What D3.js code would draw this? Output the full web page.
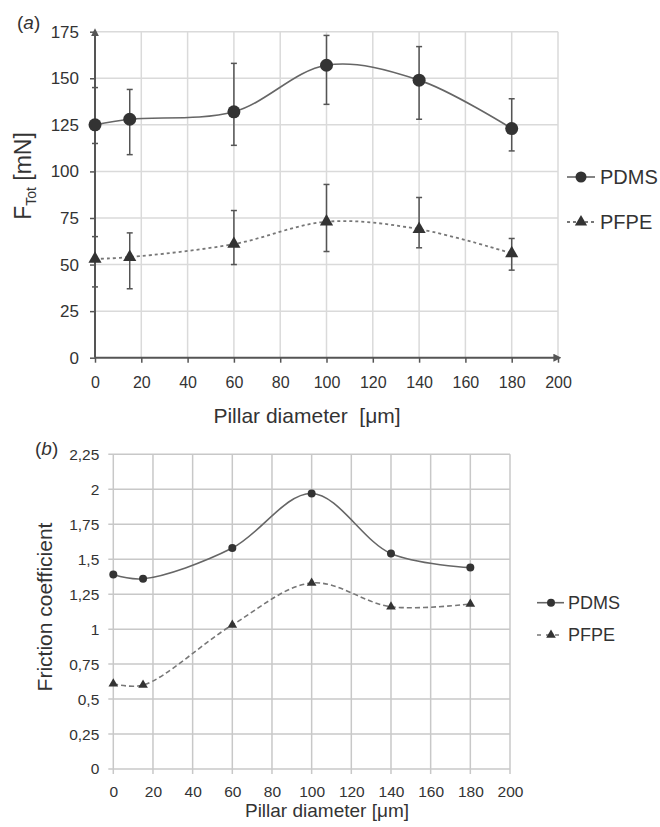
<!DOCTYPE html>
<html>
<head>
<meta charset="utf-8">
<script src="https://cdn.jsdelivr.net/npm/d3@7"></script>
<style>
  body { margin: 0; background: #fff; }
  svg { font-family: Arial, "Liberation Sans", sans-serif; }
</style>
</head>
<body>
<div id="chart"></div>
<script>
// pillar diameters (um), shared by both panels
const diameters = [0, 15, 60, 100, 140, 180];

// panel (a): total force [mN], with error bar ends
const forcePDMS = [125, 128, 132, 157, 149, 123];
const forcePDMSHi = [145, 144, 158, 173, 167, 139];
const forcePDMSLo = [115, 109, 114, 136, 128, 111];
const forcePFPE = [53, 54, 61, 73, 69, 56];
const forcePFPEHi = [65, 67, 79, 93, 86, 64];
const forcePFPELo = [38, 37, 50, 57, 59, 47];

// panel (b): friction coefficient
const frictionPDMS = [1.39, 1.36, 1.58, 1.97, 1.54, 1.44];
const frictionPFPE = [0.61, 0.60, 1.03, 1.33, 1.16, 1.18];

const diameterTicks = [0, 20, 40, 60, 80, 100, 120, 140, 160, 180, 200];
const forceTicks = [0, 25, 50, 75, 100, 125, 150, 175];
const frictionTicks = [0, 0.25, 0.5, 0.75, 1, 1.25, 1.5, 1.75, 2, 2.25];

var svg = d3.select("#chart").append("svg")
    .attr("width", 660)
    .attr("height", 827);

var defs = svg.append("defs");
defs.append("marker")
    .attr("id", "arrow")
    .attr("viewBox", "0 0 10 10")
    .attr("refX", 2).attr("refY", 5)
    .attr("markerWidth", 4).attr("markerHeight", 4)
    .attr("orient", "auto")
    .append("path")
    .attr("d", "M0,0 L10,5 L0,10 Z")
    .style("fill", "#555");

const comma = d => String(d).replace(".", ",");
const smooth = d3.curveCatmullRom.alpha(0.5);

function rows(vals, hi, lo) {
    return diameters.map((d, i) => ({x: d, y: vals[i], hi: hi ? hi[i] : null, lo: lo ? lo[i] : null}));
}

// ---------- panel (a) ----------
const xA = d3.scaleLinear().domain([0, 200]).range([95, 558]);
const yA = d3.scaleLinear().domain([0, 175]).range([357.7, 31.7]);
var gA = svg.append("g");

// gridlines
gA.selectAll("line.vgrid")
    .data(diameterTicks.slice(1))
    .enter().append("line")
    .attr("x1", d => xA(d)).attr("x2", d => xA(d))
    .attr("y1", yA(175)).attr("y2", yA(0))
    .style("stroke", "#dadada").style("stroke-width", 1.5);
gA.selectAll("line.hgrid")
    .data(forceTicks.slice(1))
    .enter().append("line")
    .attr("x1", xA(0)).attr("x2", xA(200))
    .attr("y1", d => yA(d)).attr("y2", d => yA(d))
    .style("stroke", "#dadada").style("stroke-width", 1.5);

gA.append("g")
    .attr("transform", "translate(0," + yA(0) + ")")
    .call(d3.axisBottom(xA).tickValues(diameterTicks).tickSize(5).tickPadding(14))
    .call(g => g.select(".domain").remove())
    .call(g => g.selectAll("line").style("stroke", "#555").style("stroke-width", 1.5))
    .call(g => g.selectAll("text").style("font-size", "16px").style("fill", "#333").attr("font-family", null));

gA.append("g")
    .attr("transform", "translate(" + xA(0) + ",0)")
    .call(d3.axisLeft(yA).tickValues(forceTicks).tickSize(5).tickPadding(11))
    .call(g => g.select(".domain").remove())
    .call(g => g.selectAll("line").style("stroke", "#555").style("stroke-width", 1.5))
    .call(g => g.selectAll("text").style("font-size", "17px").style("fill", "#333").attr("font-family", null));

// axis lines with arrow heads
gA.append("line")
    .attr("x1", xA(0)).attr("x2", xA(200) - 3)
    .attr("y1", yA(0)).attr("y2", yA(0))
    .attr("marker-end", "url(#arrow)")
    .style("stroke", "#555").style("stroke-width", 2);
gA.append("line")
    .attr("x1", xA(0)).attr("x2", xA(0))
    .attr("y1", yA(0)).attr("y2", yA(175) + 3)
    .attr("marker-end", "url(#arrow)")
    .style("stroke", "#555").style("stroke-width", 2);

const pdmsA = rows(forcePDMS, forcePDMSHi, forcePDMSLo);
const pfpeA = rows(forcePFPE, forcePFPEHi, forcePFPELo);

// error bars
[pdmsA, pfpeA].forEach(series => {
    var eb = gA.append("g").style("stroke", "#555").style("stroke-width", 1.5);
    eb.selectAll("line.v").data(series).enter().append("line")
        .attr("x1", d => xA(d.x)).attr("x2", d => xA(d.x))
        .attr("y1", d => yA(d.hi)).attr("y2", d => yA(d.lo));
    eb.selectAll("line.hi").data(series).enter().append("line")
        .attr("x1", d => xA(d.x) - 3).attr("x2", d => xA(d.x) + 3)
        .attr("y1", d => yA(d.hi)).attr("y2", d => yA(d.hi));
    eb.selectAll("line.lo").data(series).enter().append("line")
        .attr("x1", d => xA(d.x) - 3).attr("x2", d => xA(d.x) + 3)
        .attr("y1", d => yA(d.lo)).attr("y2", d => yA(d.lo));
});

const lineA = d3.line().x(d => xA(d.x)).y(d => yA(d.y)).curve(smooth);
gA.append("path").datum(pdmsA).attr("d", lineA)
    .style("fill", "none").style("stroke", "#666").style("stroke-width", 1.6);
gA.append("path").datum(pfpeA).attr("d", lineA)
    .style("fill", "none").style("stroke", "#777").style("stroke-width", 1.8)
    .style("stroke-dasharray", "3 3");

gA.selectAll("circle.pdms").data(pdmsA).enter().append("circle")
    .attr("cx", d => xA(d.x)).attr("cy", d => yA(d.y)).attr("r", 6.5)
    .style("fill", "#333");
gA.selectAll("path.pfpe").data(pfpeA).enter().append("path")
    .attr("d", d3.symbol(d3.symbolTriangle, 75))
    .attr("transform", d => "translate(" + xA(d.x) + "," + yA(d.y) + ")")
    .style("fill", "#333");

// legend (a)
gA.append("line").attr("x1", 567).attr("x2", 595).attr("y1", 177).attr("y2", 177)
    .style("stroke", "#666").style("stroke-width", 1.6);
gA.append("circle").attr("cx", 581).attr("cy", 177).attr("r", 5.5).style("fill", "#333");
gA.append("text").attr("x", 600).attr("y", 184).style("font-size", "20px").style("fill", "#333").text("PDMS");
gA.append("line").attr("x1", 567).attr("x2", 595).attr("y1", 222).attr("y2", 222)
    .style("stroke", "#777").style("stroke-width", 1.8).style("stroke-dasharray", "3 3");
gA.append("path").attr("d", d3.symbol(d3.symbolTriangle, 65))
    .attr("transform", "translate(581,222)").style("fill", "#333");
gA.append("text").attr("x", 600).attr("y", 229).style("font-size", "20px").style("fill", "#333").text("PFPE");

// titles (a)
gA.append("text")
    .attr("x", 307).attr("y", 423)
    .style("text-anchor", "middle").style("font-size", "21px").style("fill", "#333")
    .text("Pillar diameter\u00a0\u00a0[\u03bcm]");
var yTitleA = gA.append("text")
    .attr("transform", "translate(31,176) rotate(-90)")
    .style("text-anchor", "middle").style("font-size", "23px").style("fill", "#333");
yTitleA.append("tspan").text("F");
yTitleA.append("tspan").attr("dy", 5).style("font-size", "14px").text("Tot");
yTitleA.append("tspan").attr("dy", -5).text(" [mN]");
var labA = gA.append("text").attr("x", 17).attr("y", 29).style("font-size", "19px").style("fill", "#333");
labA.append("tspan").text("(");
labA.append("tspan").style("font-style", "italic").text("a");
labA.append("tspan").text(")");

// ---------- panel (b) ----------
const xB = d3.scaleLinear().domain([0, 200]).range([113.3, 510]);
const yB = d3.scaleLinear().domain([0, 2.25]).range([769, 454.3]);
var gB = svg.append("g");

gB.selectAll("line.vgrid")
    .data(diameterTicks)
    .enter().append("line")
    .attr("x1", d => xB(d)).attr("x2", d => xB(d))
    .attr("y1", yB(2.25)).attr("y2", yB(0) + 5)
    .style("stroke", "#c8c8c8").style("stroke-width", 1.5);
gB.selectAll("line.hgrid")
    .data(frictionTicks)
    .enter().append("line")
    .attr("x1", xB(0) - 5).attr("x2", xB(200))
    .attr("y1", d => yB(d)).attr("y2", d => yB(d))
    .style("stroke", "#c8c8c8").style("stroke-width", 1.5);

gB.append("g")
    .attr("transform", "translate(0," + yB(0) + ")")
    .call(d3.axisBottom(xB).tickValues(diameterTicks).tickSize(5).tickPadding(12))
    .call(g => g.select(".domain").remove())
    .call(g => g.selectAll("line").remove())
    .call(g => g.selectAll("text").style("font-size", "15.5px").style("fill", "#333").attr("font-family", null));

gB.append("g")
    .attr("transform", "translate(" + xB(0) + ",0)")
    .call(d3.axisLeft(yB).tickValues(frictionTicks).tickFormat(comma).tickSize(5).tickPadding(9))
    .call(g => g.select(".domain").remove())
    .call(g => g.selectAll("line").remove())
    .call(g => g.selectAll("text").style("font-size", "15.5px").style("fill", "#333").attr("font-family", null));

const pdmsB = rows(frictionPDMS);
const pfpeB = rows(frictionPFPE);
const lineB = d3.line().x(d => xB(d.x)).y(d => yB(d.y)).curve(smooth);
gB.append("path").datum(pdmsB).attr("d", lineB)
    .style("fill", "none").style("stroke", "#666").style("stroke-width", 1.6);
gB.append("path").datum(pfpeB).attr("d", lineB)
    .style("fill", "none").style("stroke", "#777").style("stroke-width", 1.6)
    .style("stroke-dasharray", "5 3");

gB.selectAll("circle.pdms").data(pdmsB).enter().append("circle")
    .attr("cx", d => xB(d.x)).attr("cy", d => yB(d.y)).attr("r", 4)
    .style("fill", "#333");
gB.selectAll("path.pfpe").data(pfpeB).enter().append("path")
    .attr("d", d3.symbol(d3.symbolTriangle, 40))
    .attr("transform", d => "translate(" + xB(d.x) + "," + yB(d.y) + ")")
    .style("fill", "#333");

// legend (b)
gB.append("line").attr("x1", 537).attr("x2", 564).attr("y1", 602.7).attr("y2", 602.7)
    .style("stroke", "#666").style("stroke-width", 1.6);
gB.append("circle").attr("cx", 551).attr("cy", 602.7).attr("r", 4).style("fill", "#333");
gB.append("text").attr("x", 568).attr("y", 609).style("font-size", "18px").style("fill", "#333").text("PDMS");
gB.append("line").attr("x1", 537).attr("x2", 564).attr("y1", 635).attr("y2", 635)
    .style("stroke", "#777").style("stroke-width", 1.6).style("stroke-dasharray", "4 5");
gB.append("path").attr("d", d3.symbol(d3.symbolTriangle, 40))
    .attr("transform", "translate(551,635)").style("fill", "#333");
gB.append("text").attr("x", 568).attr("y", 641).style("font-size", "18px").style("fill", "#333").text("PFPE");

// titles (b)
gB.append("text")
    .attr("x", 327).attr("y", 817)
    .style("text-anchor", "middle").style("font-size", "19px").style("fill", "#333")
    .text("Pillar diameter [\u03bcm]");
gB.append("text")
    .attr("transform", "translate(52,607) rotate(-90)")
    .style("text-anchor", "middle").style("font-size", "21px").style("fill", "#333")
    .text("Friction coefficient");
var labB = gB.append("text").attr("x", 35).attr("y", 455).style("font-size", "19px").style("fill", "#333");
labB.append("tspan").text("(");
labB.append("tspan").style("font-style", "italic").text("b");
labB.append("tspan").text(")");
</script>
</body>
</html>
